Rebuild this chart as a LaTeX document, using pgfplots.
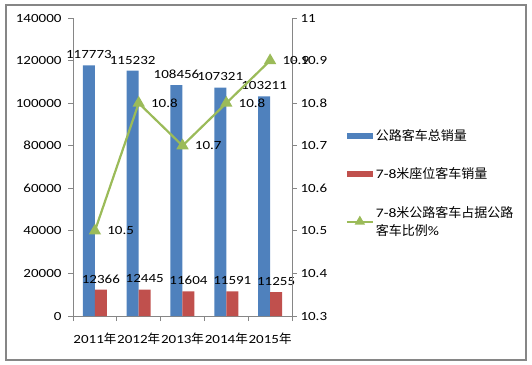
\documentclass[border=0pt]{standalone}
\usepackage{pgfplots}
\pgfplotsset{compat=1.18}
\usepackage{fontspec}
\setmainfont[FakeStretch=1.2]{Carlito}
\newfontfamily\cjk{Noto Sans CJK SC}
\definecolor{cblue}{HTML}{4F81BD}
\definecolor{cred}{HTML}{C0504D}
\definecolor{cgreen}{HTML}{9BBB59}
\definecolor{axgray}{HTML}{868686}
\pgfplotsset{
  barlegend/.style={legend image code/.code={\fill[##1] (0pt,-3pt) rectangle (26pt,3pt);}},
  linelegend/.style={legend image code/.code={\draw[##1] (0pt,0pt) -- (26pt,0pt); \path[##1] plot coordinates {(13pt,0pt)};}},
}
\begin{document}
\begin{tikzpicture}
\useasboundingbox (0,0) rectangle (532pt,364pt);
\draw[axgray, line width=1.2pt] (6pt,4pt) rectangle (526pt,359pt);
\pgfplotsset{
  common/.style={
    at={(73pt,48pt)}, anchor=south west, scale only axis, width=219pt, height=298pt,
    xmin=-0.5, xmax=4.5, clip=false,
    tick align=outside,
    axis line style={axgray, line width=0.8pt},
    every tick/.style={axgray, line width=0.8pt},
    major tick length=5pt, minor tick length=5pt,
    tick label style={font=\fontsize{12.5}{14}\selectfont},
    /pgf/number format/assume math mode=true,
    /pgf/number format/1000 sep={},
    /pgf/number format/fixed,
  }
}
\begin{axis}[common,
  axis y line*=left, axis x line*=bottom,
  ymin=0, ymax=140000, ytick={0,20000,40000,60000,80000,100000,120000,140000},
  scaled y ticks=false,
  yticklabel style={xshift=-3pt},
  xtick={0,1,2,3,4},
  xticklabels={2011{\cjk 年},2012{\cjk 年},2013{\cjk 年},2014{\cjk 年},2015{\cjk 年}},
  xticklabel style={yshift=-8pt, inner xsep=0pt},
  major x tick style={draw=none},
  minor xtick={-0.5,0.5,1.5,2.5,3.5,4.5},
  ybar=0pt, bar width=12pt,
  legend cell align=left,
  legend style={draw=none, fill=none, at={(1.245,0.634)}, anchor=north west,
    font=\fontsize{13}{18}\selectfont, cells={anchor=west, align=left},
    row sep=22pt, inner sep=0pt},
]
\addplot[fill=cblue, draw=none, barlegend,
  nodes near coords, nodes near coords style={anchor=south, yshift=3pt, font=\fontsize{12.5}{14}\selectfont, black}]
  coordinates {(0,117773) (1,115232) (2,108456) (3,107321) (4,103211)};
\addlegendentry{\cjk 公路客车总销量}
\addplot[fill=cred, draw=none, barlegend,
  nodes near coords, nodes near coords style={anchor=south, yshift=3pt, font=\fontsize{12.5}{14}\selectfont, black}]
  coordinates {(0,12366) (1,12445) (2,11604) (3,11591) (4,11255)};
\addlegendentry{7-8{\cjk 米座位客车销量}}
\addlegendimage{cgreen, line width=2pt, mark=triangle*, mark size=4pt, linelegend}
\addlegendentry{7-8{\cjk 米公路客车占据公路}\\{\cjk 客车比例}\%}
\end{axis}
\begin{axis}[common,
  axis y line*=right, axis x line=none,
  ymin=10.3, ymax=11,
  ytick={10.3,10.4,10.5,10.6,10.7,10.8,10.9,11},
  yticklabels={10.3,10.4,10.5,10.6,10.7,10.8,10.9,11},
]
\addplot[cgreen, line width=2.2pt, mark=triangle*, mark size=5pt, mark options={solid},
  nodes near coords, point meta=explicit symbolic,
  nodes near coords style={anchor=west, xshift=8pt, font=\fontsize{12.5}{14}\selectfont, black}]
  coordinates {(0,10.5)[10.5] (1,10.8)[10.8] (2,10.7)[10.7] (3,10.8)[10.8] (4,10.9)[10.9]};
\end{axis}
\end{tikzpicture}
\end{document}
